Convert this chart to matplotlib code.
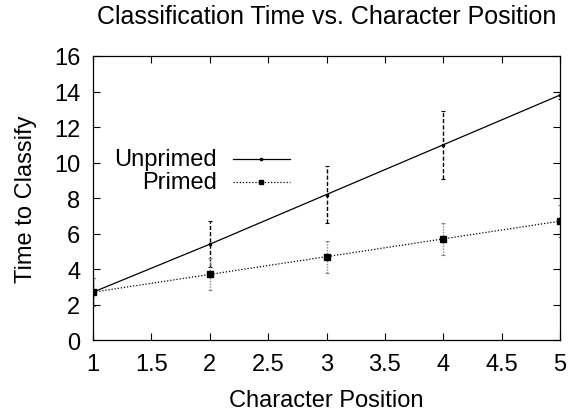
import matplotlib
matplotlib.use("Agg")
import matplotlib.pyplot as plt

positions = [1, 2, 3, 4, 5]
unprimed = [2.7, 5.4, 8.2, 11.0, 13.8]
unprimed_err = [0.8, 1.3, 1.6, 1.9, 0.2]
primed = [2.7, 3.7, 4.7, 5.7, 6.7]
primed_err = [0.8, 0.9, 0.9, 0.9, 0.9]
xticks = [1, 1.5, 2, 2.5, 3, 3.5, 4, 4.5, 5]
yticks = [0, 2, 4, 6, 8, 10, 12, 14, 16]

plt.rcParams['font.family'] = ['Liberation Sans', 'DejaVu Sans']
fs = 17

fig = plt.figure(figsize=(5.68, 4.10), dpi=100)
ax = fig.add_axes([0.1637, 0.168, 0.8223, 0.693])

# error bars
eb1 = ax.errorbar(positions, unprimed, yerr=unprimed_err, fmt='none', ecolor='black',
                  elinewidth=1.0, capsize=1.5, capthick=0.8, zorder=2)
for lc in eb1[2]:
    lc.set_linestyle((0, (3, 1.5)))
eb2 = ax.errorbar(positions, primed, yerr=primed_err, fmt='none', ecolor='#888888',
                  elinewidth=1.0, capsize=1.5, capthick=0.8, zorder=2)
for lc in eb2[2]:
    lc.set_linestyle((0, (1, 1)))

ax.plot(positions, unprimed, color='black', lw=0.9, marker='s', ms=2.0, zorder=3)
ax.plot(positions, primed, color='black', lw=0.9, ls=(0, (1, 1.5)), marker='s', ms=3.8, zorder=3)

ax.set_xlim(1, 5)
ax.set_ylim(0, 16)
ax.set_xticks(xticks)
ax.set_xticklabels([f"{t:g}" for t in xticks])
ax.set_yticks(yticks)
ax.tick_params(direction='in', top=True, right=True, length=5, width=0.8,
               labelsize=fs)
ax.tick_params(axis='x', pad=9.5)
ax.tick_params(axis='y', pad=9)
for s in ax.spines.values():
    s.set_linewidth(0.9)

ax.set_title("Classification Time vs. Character Position", fontsize=18, pad=24)
ax.set_xlabel("Character Position", fontsize=fs, labelpad=9.5)
ax.set_ylabel("Time to Classify", fontsize=fs, labelpad=12)

# key (gnuplot-style, text right-aligned, sample on the right)
key_labels = ["Unprimed", "Primed"]
key_y = [0.638, 0.557]
key_styles = [dict(color='black', lw=0.9), dict(color='black', lw=0.9, ls=(0, (1, 1.5)))]
key_ms = [1.8, 3.2]
for lab, yk, st, m in zip(key_labels, key_y, key_styles, key_ms):
    ax.text(0.265, yk, lab, transform=ax.transAxes, ha='right', va='center', fontsize=fs)
    ax.plot([0.299, 0.421], [yk, yk], transform=ax.transAxes, **st)
    ax.plot([0.36], [yk], transform=ax.transAxes, ls='none',
            marker='s', ms=m, color='black')

fig.savefig("out.png", dpi=100)
